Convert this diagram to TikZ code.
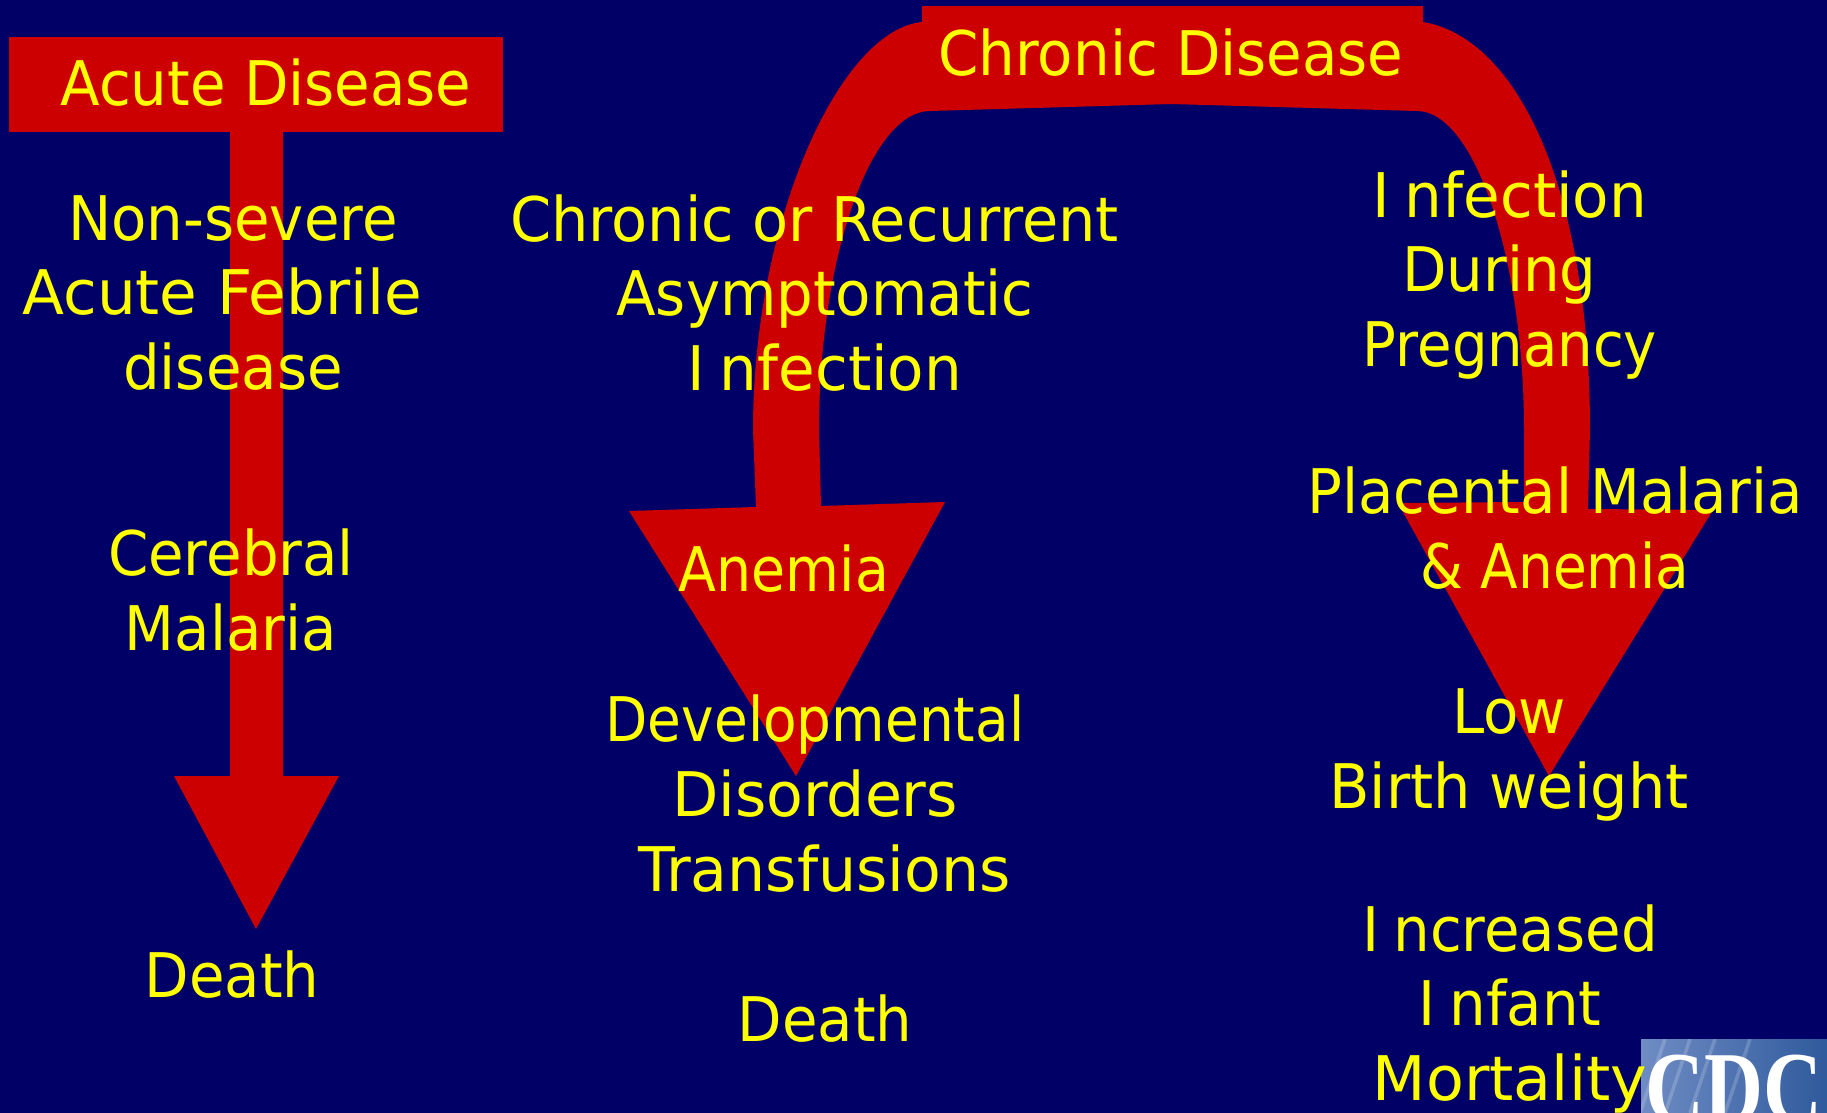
\documentclass[tikz,border=0pt]{standalone}
\usepackage{fontspec}
\usepackage{graphicx}
\setmainfont[FakeStretch=0.94]{DejaVu Sans}
\newfontfamily\logofont{Liberation Serif}
\usetikzlibrary{positioning}
\definecolor{navy}{HTML}{000066}
\definecolor{band}{HTML}{CC0000}
\definecolor{label}{HTML}{FFFF00}
\definecolor{logolt}{HTML}{6F8CC4}
\definecolor{logodk}{HTML}{2F5A9C}
\newcommand{\Ifix}{I\kern4pt}
\newcommand{\wdfit}[2]{\scalebox{#1}[1]{#2}}
\tikzset{
  txt/.style={align=center, inner sep=0pt, text=label, font=\fontsize{17.5}{21.3}\selectfont},
  bandfill/.style={fill=band, draw=none},
}
\begin{document}
\begin{tikzpicture}[x=0.1mm, y=-0.1mm]
  \fill[navy] (0,0) rectangle (1827,1113);
  \useasboundingbox (0,0) rectangle (1827,1113);
  % acute arrow
  \fill[bandfill] (9,37) rectangle (503,132);
  \fill[bandfill] (230,132) -- (230,776) -- (174,776) -- (256,929) -- (339,776) -- (283,776) -- (283,132) -- cycle;
  % chronic band
  \fill[bandfill] (922,6) -- (1423,6) -- (1423,22)
    .. controls (1518,38) and (1590,190) .. (1590,430) -- (1588,509)
    -- (1713,510) -- (1549,776) -- (1398,503) -- (1524,502) -- (1524,430)
    .. controls (1524,260) and (1475,111) .. (1417,111)
    -- (1171,104) -- (930,111)
    .. controls (870,111) and (819,260) .. (819,430) -- (821,506)
    -- (945,502) -- (796,776) -- (629,511) -- (756,507) -- (753,430)
    .. controls (753,220) and (840,30) .. (922,22) -- cycle;
  % logo
  \begin{scope}
    \clip (1641,1039) rectangle (1827,1113);
    \shade[left color=logolt, right color=logodk] (1641,1039) rectangle (1827,1113);
    \foreach \xa in {1665,1690,1715,1750}
      \draw[white, opacity=0.18, line width=1pt] (\xa,1039) -- (\xa-25,1113);
    \node[anchor=base, inner sep=0pt, text=white, yscale=1.25, font=\logofont\bfseries\fontsize{23.2}{24}\selectfont] (logo) at (1734,1122) {CDC};
  \end{scope}
  % labels
  \node[txt] (acute) at (266,83) {Acute Disease};
  \node[txt] (chronic) at (1171,53) {Chronic Disease};
  \node[txt] (febrile) at (233,293) {Non-severe\\\wdfit{1.06}{Acute Febrile}\kern6pt\\disease};
  \node[txt] (cerebral) at (231,590) {Cerebral\\Malaria};
  \node[txt] (death1) at (232,975) {Death};
  \node[txt] (recurrent) at (825,293) {\wdfit{1.02}{Chronic or Recurrent}\kern6pt\\Asymptomatic\\\wdfit{1.03}{\Ifix nfection}};
  \node[txt] (anemia) at (784,569) {\wdfit{0.957}{Anemia}};
  \node[txt] (disorders) at (815,793.5) {\wdfit{0.95}{Developmental}\\\wdfit{1.04}{Disorders}\\\kern5.3pt\wdfit{1.04}{Transfusions}};
  \node[txt] (death2) at (825,1019) {Death};
  \node[txt] (pregnancy) at (1510,275) {\wdfit{1.03}{\Ifix nfection}\\During\kern6pt\\\wdfit{0.97}{Pregnancy}};
  \node[txt] (placental) at (1555,528) {Placental Malaria\\\wdfit{0.95}{\& Anemia}};
  \node[txt] (birth) at (1509,755) {Low\\\wdfit{1.02}{Birth weight}};
  \node[txt] (mortality) at (1510,1009) {\Ifix ncreased\\\Ifix nfant\\\wdfit{1.07}{Mortality}};
\end{tikzpicture}
\end{document}
